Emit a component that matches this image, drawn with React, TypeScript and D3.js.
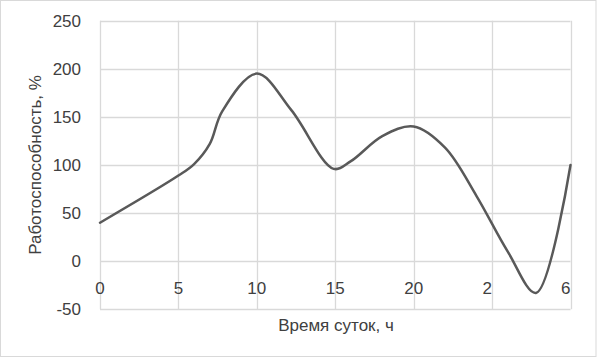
import React from "react";
import * as d3 from "d3";

const hours = [0, 5, 6, 7, 7.8, 10, 12.2, 14.9, 16, 18, 20, 22, 24, 26, 27.8, 30];
const capacity = [40, 89, 101, 122, 156, 195, 157, 96, 104, 130, 140, 118, 68, 10, -33, 100];
const xTickValues = [0, 5, 10, 15, 20, 25, 30];
const xTickLabels = ["0", "5", "10", "15", "20", "2", "6"];
const yTickValues = [-50, 0, 50, 100, 150, 200, 250];
const xTitle = "Время суток, ч";
const yTitle = "Работоспособность, %";

export default function App() {
  const W = 600, H = 358;
  const x = d3.scaleLinear().domain([0, 30]).range([100, 570.5]);
  const y = d3.scaleLinear().domain([-50, 250]).range([309.3, 20.7]);
  const pts: [number, number][] = hours.map((h, i) => [h, capacity[i]]);
  const line = d3
    .line<[number, number]>()
    .x((d) => x(d[0]))
    .y((d) => y(d[1]))
    .curve(d3.curveCatmullRom.alpha(0.5));
  const font = "'Liberation Sans', Arial, sans-serif";
  const textColor = "#404040";
  return (
    <svg width={W} height={H} style={{ position: "absolute", left: 0, top: 0 }}>
      <rect x={0} y={0} width={W} height={H} fill="#fff" />
      <rect x={0.5} y={0.5} width={595.5} height={356} fill="none" stroke="#d9d9d9" strokeWidth={1} />
      {yTickValues.map((v) => (
        <line key={"gy" + v} x1={x(0)} x2={x(30)} y1={Math.round(y(v)) + 0.5} y2={Math.round(y(v)) + 0.5} stroke="#d9d9d9" strokeWidth={1.3} />
      ))}
      {xTickValues.map((v) => (
        <line key={"gx" + v} x1={Math.round(x(v)) + 0.5} x2={Math.round(x(v)) + 0.5} y1={y(250)} y2={y(-50)} stroke="#d9d9d9" strokeWidth={1.3} />
      ))}
      {yTickValues.map((v) => (
        <text key={"ty" + v} x={81} y={y(v)} dy="0.36em" textAnchor="end" fontFamily={font} fontSize={17} fill={textColor}>
          {v}
        </text>
      ))}
      {xTickValues.map((v, i) => {
        const isEnd = i >= xTickValues.length - 2;
        return (
          <text key={"tx" + v} x={isEnd ? x(v) : x(v)} y={287.5} dy="0.36em" textAnchor={isEnd ? "end" : "middle"} fontFamily={font} fontSize={17} fill={textColor}>
            {xTickLabels[i]}
          </text>
        );
      })}
      <path d={line(pts) || ""} fill="none" stroke="#595959" strokeWidth={2.5} strokeLinejoin="round" strokeLinecap="round" />
      <text x={336} y={325} dy="0.36em" textAnchor="middle" fontFamily={font} fontSize={17} fill={textColor}>
        {xTitle}
      </text>
      <text transform={`translate(35,165) rotate(-90)`} dy="0.36em" textAnchor="middle" fontFamily={font} fontSize={17} fill={textColor}>
        {yTitle}
      </text>
    </svg>
  );
}
